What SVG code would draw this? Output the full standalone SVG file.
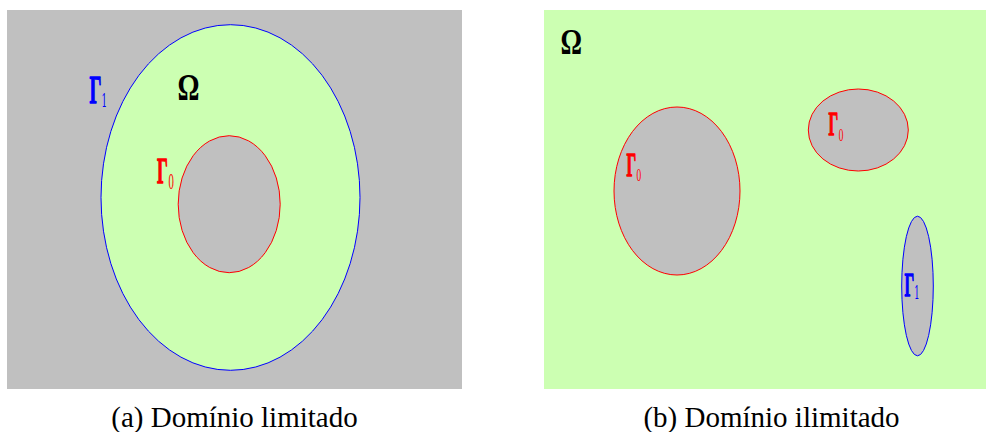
<svg xmlns="http://www.w3.org/2000/svg" width="986" height="432" viewBox="0 0 986 432">
<style>
.bg{fill:#c0c0c0}
.dom{fill:#ccffb2}
.hole{fill:#c0c0c0}
.g0{stroke:#ff0000;stroke-width:1}
.g1{stroke:#0000ff;stroke-width:1}
.L{font-family:'Liberation Serif','Times New Roman',serif}
.G{font-weight:700;stroke-width:1.3;stroke-linejoin:round}
.sub{font-family:'DejaVu Serif','Liberation Serif',serif;font-weight:400;stroke:none}
.red{fill:#ff0000;stroke:#ff0000}
.blue{fill:#0000ff;stroke:#0000ff}
.om{font-family:'Liberation Serif','Times New Roman',serif;font-weight:700;fill:#000}
.cap{font-family:'Liberation Serif','Times New Roman',serif;font-size:29px;fill:#000;text-anchor:middle}
</style>
<rect width="986" height="432" fill="#ffffff"/>
<g id="panel-a">
  <rect id="a-background" class="bg" x="7" y="10" width="455" height="379"/>
  <g id="a-omega-region">
    <ellipse class="dom g1" cx="230.5" cy="197.5" rx="129.5" ry="172.8"/>
  </g>
  <g id="a-hole">
    <ellipse class="hole g0" cx="229.2" cy="204.2" rx="51" ry="68.5"/>
  </g>
  <g id="a-labels">
    <text class="L blue" transform="translate(89.5,102.5) scale(0.47,1)" font-size="40"><tspan class="G">Γ</tspan><tspan class="sub" font-size="18.5" dy="4" dx="0">1</tspan></text>
    <text class="om" x="177.5" y="100" font-size="37" textLength="22" lengthAdjust="spacingAndGlyphs">Ω</text>
    <text class="L red" transform="translate(157,182.8) scale(0.47,1)" font-size="36"><tspan class="G">Γ</tspan><tspan class="sub" font-size="19.5" dy="5.7" dx="1">0</tspan></text>
  </g>
  <text class="cap" x="234.5" y="427">(a) Domínio limitado</text>
</g>
<g id="panel-b">
  <rect id="b-background" class="dom" x="544" y="10" width="442" height="379"/>
  <g id="b-hole-1">
    <ellipse class="hole g0" cx="677" cy="191" rx="63" ry="84"/>
  </g>
  <g id="b-hole-2">
    <ellipse class="hole g0" cx="858.3" cy="130" rx="50" ry="41"/>
  </g>
  <g id="b-hole-3">
    <ellipse class="hole g1" cx="917.5" cy="286" rx="15.8" ry="69.8"/>
  </g>
  <g id="b-labels">
    <text class="om" x="560.5" y="54" font-size="36" textLength="21.5" lengthAdjust="spacingAndGlyphs">Ω</text>
    <text class="L red" transform="translate(626.5,176.2) scale(0.46,1)" font-size="33"><tspan class="G">Γ</tspan><tspan class="sub" font-size="17.5" dy="5" dx="0">0</tspan></text>
    <text class="L red" transform="translate(828.5,134.5) scale(0.46,1)" font-size="33"><tspan class="G">Γ</tspan><tspan class="sub" font-size="17.5" dy="6" dx="1">0</tspan></text>
    <text class="L blue" transform="translate(904.5,296.2) scale(0.46,1)" font-size="33"><tspan class="G">Γ</tspan><tspan class="sub" font-size="18" dy="2.5" dx="0">1</tspan></text>
  </g>
  <text class="cap" x="771.5" y="427">(b) Domínio ilimitado</text>
</g>
</svg>
